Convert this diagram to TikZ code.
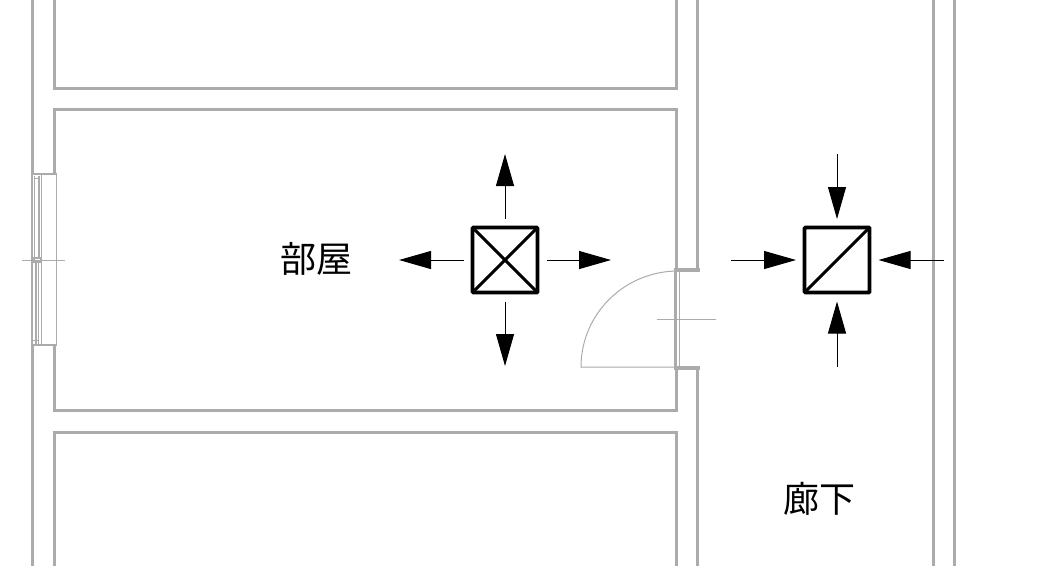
\documentclass[tikz,border=0pt]{standalone}
\usepackage{fontspec}
\newfontfamily\cjk{Noto Sans CJK JP}
\usetikzlibrary{arrows.meta}
\definecolor{wallgray}{HTML}{ABABAB}
\tikzset{
  wall/.style={draw=wallgray,line width=3pt,line join=miter},
  thin part/.style={draw=wallgray,line width=1pt},
  sash/.style={draw=wallgray,line width=2pt},
  unit/.style={draw=black,line width=3.6pt,minimum size=65pt,inner sep=0pt,outer sep=0pt,rounded corners=0.8pt},
  diag/.style={draw=black,line width=3pt},
  flow/.style={draw=black,line width=1pt,-{Triangle[length=32pt,width=18pt]}},
  room label/.style={font=\cjk\fontsize{36}{36}\selectfont,text=black,inner sep=0pt}
}
\begin{document}
\begin{tikzpicture}[x=1pt,y=-1pt]
\useasboundingbox (0,0) rectangle (1046,566);
% outer walls
\draw[wall] (32.5,0) -- (32.5,174);
\draw[wall] (32.5,345) -- (32.5,566);
\draw[wall] (697.5,0) -- (697.5,270);
\draw[wall] (697.5,368) -- (697.5,566);
\draw[wall] (933.5,0) -- (933.5,566);
\draw[wall] (954.5,0) -- (954.5,566);
% rooms
\draw[wall] (54.5,0) -- (54.5,88.5) -- (676.5,88.5) -- (676.5,0);
\draw[wall] (54.5,174) -- (54.5,109.5) -- (676.5,109.5) -- (676.5,270);
\draw[wall] (54.5,345) -- (54.5,410.5) -- (676.5,410.5) -- (676.5,368);
\draw[wall] (54.5,566) -- (54.5,432.5) -- (676.5,432.5) -- (676.5,566);
% window
\draw[thin part] (41.5,174.5) rectangle (56.5,345);
\draw[sash] (32,174) -- (56.5,174);
\draw[sash] (32,345) -- (56.5,345);
\draw[wall,line width=2.5pt] (32.2,174) -- (32.2,345);
\draw[sash] (39,176) -- (39,258);
\draw[sash] (35.5,262) -- (35.5,344);
\draw[thin part] (34.5,176) -- (34.5,258);
\draw[thin part] (38.5,262) -- (38.5,344);
\draw[thin part] (34,178) -- (40,178);
\draw[thin part] (33,340) -- (38.5,340);
\draw[thin part] (22,260) -- (65,260);
\draw[sash] (34,258) rectangle (40.5,262);
% door
\draw[wall,line width=4pt] (674,269.5) -- (699.5,269.5);
\draw[wall,line width=4pt] (674,368) -- (699.5,368);
\draw[wall,line width=2.5pt] (675.5,271) -- (675.5,367);
\draw[thin part] (679,271) -- (679,367);
\draw[thin part] (678,271) .. controls (624.5,271) and (581,314) .. (581,367) -- (678,367);
\draw[thin part] (657,319.5) -- (716,319.5);
% units
\node[unit] (supply) at (505,260) {};
\node[unit] (exhaust) at (837,260) {};
\draw[diag] (supply.north west) -- (supply.south east);
\draw[diag] (supply.north east) -- (supply.south west);
\draw[diag] (exhaust.south west) -- (exhaust.north east);
\coordinate (su) at (505,154);
\coordinate (sd) at (505,366);
\coordinate (sl) at (399,260);
\coordinate (sr) at (611,260);
\draw[flow] ([yshift=9pt]supply.north) -- (su);
\draw[flow] ([yshift=-9pt]supply.south) -- (sd);
\draw[flow] ([xshift=-9pt]supply.west) -- (sl);
\draw[flow] ([xshift=9pt]supply.east) -- (sr);
\coordinate (eu) at (837,154);
\coordinate (ed) at (837,367);
\coordinate (el) at (731,260);
\coordinate (er) at (944,260);
\draw[flow] (eu) -- ([yshift=8.5pt]exhaust.north);
\draw[flow] (ed) -- ([yshift=-9pt]exhaust.south);
\draw[flow] (el) -- ([xshift=-8.5pt]exhaust.west);
\draw[flow] (er) -- ([xshift=9pt]exhaust.east);
% labels
\node[room label] (room) at (316,259) {部屋};
\node[room label] (corridor) at (819,499) {廊下};
\end{tikzpicture}
\end{document}
